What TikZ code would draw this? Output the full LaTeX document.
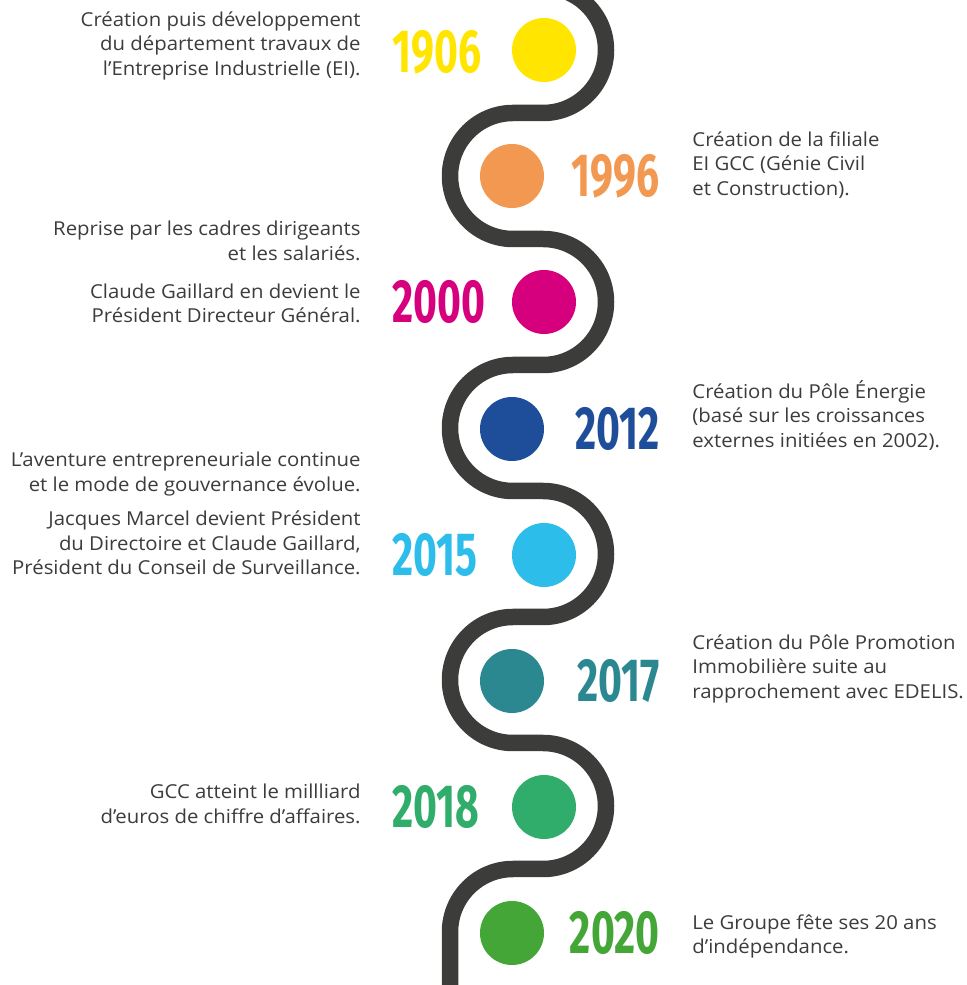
\documentclass[tikz,border=0pt]{standalone}
\usepackage{fontspec}
\setmainfont{Open Sans}[FakeStretch=1.06]
\newfontfamily\yearfont{Fira Sans}
\usetikzlibrary{positioning}
\definecolor{road}{HTML}{3C3C3B}
\definecolor{c1906}{HTML}{FFE500}
\definecolor{c1996}{HTML}{F39850}
\definecolor{c2000}{HTML}{D6007E}
\definecolor{c2012}{HTML}{1E4E9A}
\definecolor{c2015}{HTML}{2DBDEA}
\definecolor{c2017}{HTML}{2B8891}
\definecolor{c2018}{HTML}{30AD6B}
\definecolor{c2020}{HTML}{43A637}
\newcommand{\yr}[1]{\scalebox{0.67}[1]{#1}}
\begin{document}
\begin{tikzpicture}[x=0.5pt, y=0.5pt] % 1 unit = 1 px of the reference
\tikzstyle{dot} = [circle, fill, minimum size=32pt, inner sep=0pt] % year disc
\tikzstyle{year} = [inner sep=0pt, font=\yearfont\bfseries\fontsize{30.5}{30.5}\selectfont] % year number
\tikzstyle{txtl} = [inner sep=0pt, align=right, anchor=north east, text=road, font=\fontsize{9.6}{12.25}\selectfont] % text on the left
\tikzstyle{txtr} = [inner sep=0pt, align=left, anchor=north west, text=road, font=\fontsize{9.6}{12.25}\selectfont] % text on the right
\useasboundingbox (0,0) rectangle (966,985);
\clip (0,0) rectangle (966,985);
% the road
\draw[road, line width=8.25pt]
    (543,998) arc[start angle=90, end angle=-90, radius=31.5pt] % 1906
 -- (513,872) arc[start angle=90, end angle=270, radius=31.5pt] % 1996
 -- (543,746) arc[start angle=90, end angle=-90, radius=31.5pt] % 2000
 -- (513,620) arc[start angle=90, end angle=270, radius=31.5pt] % 2012
 -- (543,494) arc[start angle=90, end angle=-90, radius=31.5pt] % 2015
 -- (513,368) arc[start angle=90, end angle=270, radius=31.5pt] % 2017
 -- (543,242) arc[start angle=90, end angle=-90, radius=31.5pt] % 2018
 -- (513,116) arc[start angle=90, end angle=180, radius=31.5pt] % 2020
 -- (450,-10);
% discs
\node[dot, c1906] (d1906) at (544,935) {};
\node[dot, c1996] (d1996) at (512,809) {};
\node[dot, c2000] (d2000) at (544,683) {};
\node[dot, c2012] (d2012) at (512,556) {};
\node[dot, c2015] (d2015) at (544,430) {};
\node[dot, c2017] (d2017) at (512,304) {};
\node[dot, c2018] (d2018) at (544,178) {};
\node[dot, c2020] (d2020) at (512,52) {};
% years
\node[year, text=c1906, anchor=west] (y1906) at (392,933) {\yr{1906}};
\node[year, text=c1996, anchor=east] (y1996) at (660,809) {\yr{1996}};
\node[year, text=c2000, anchor=west] (y2000) at (392,683) {\yr{2000}};
\node[year, text=c2012, anchor=east] (y2012) at (660,556) {\yr{2012}};
\node[year, text=c2015, anchor=west] (y2015) at (392,430) {\yr{2015}};
\node[year, text=c2017, anchor=east] (y2017) at (660,304) {\yr{2017}};
\node[year, text=c2018, anchor=west] (y2018) at (392,178) {\yr{2018}};
\node[year, text=c2020, anchor=east] (y2020) at (660,52) {\yr{2020}};
% texts
\node[txtl] (t1906) at (361,974) {Création puis développement\\ du département travaux de\\ l’Entreprise Industrielle (EI).};
\node[txtr] (t1996) at (692,854) {Création de la filiale\\ EI GCC (Génie Civil\\ et Construction).};
\node[txtl] (t2000) at (361,764) {Reprise par les cadres dirigeants\\ et les salariés.\\[6.75pt] Claude Gaillard en devient le\\ Président Directeur Général.};
\node[txtr] (t2012) at (692,605) {Création du Pôle Énergie\\ (basé sur les croissances\\ externes initiées en 2002).};
\node[txtl] (t2015) at (361,533) {L’aventure entrepreneuriale continue\\ et le mode de gouvernance évolue.\\[5pt] Jacques Marcel devient Président\\ du Directoire et Claude Gaillard,\\ Président du Conseil de Surveillance.};
\node[txtr] (t2017) at (692,351) {Création du Pôle Promotion\\ Immobilière suite au\\ rapprochement avec EDELIS.};
\node[txtl] (t2018) at (361,201) {GCC atteint le millliard\\ d’euros de chiffre d’affaires.};
\node[txtr] (t2020) at (692,71) {Le Groupe fête ses 20 ans\\ d’indépendance.};
\end{tikzpicture}
\end{document}
